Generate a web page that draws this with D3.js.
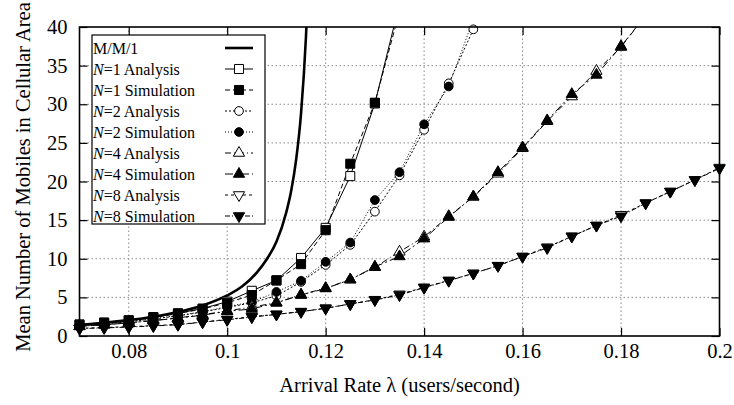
<!DOCTYPE html>
<html lang="en">
<head>
<meta charset="utf-8">
<title>Mean Number of Mobiles vs Arrival Rate</title>
<script src="https://d3js.org/d3.v7.min.js"></script>
<style>
  body { margin: 0; background: #fff; }
  svg text { font-family: "Liberation Serif", "DejaVu Serif", serif; fill: #000; }
</style>
</head>
<body>
<svg id="chart"></svg>
<script>
const width = 734;
const height = 405;

// arrival rates (users/second) for the N-series
const lambdas = [0.07, 0.075, 0.08, 0.085, 0.09, 0.095, 0.1, 0.105, 0.11, 0.115, 0.12, 0.125, 0.13, 0.135,
                 0.14, 0.145, 0.15, 0.155, 0.16, 0.165, 0.17, 0.175, 0.18, 0.185, 0.19, 0.195, 0.2];

// M/M/1 curve
const mm1Lambdas = [0.07, 0.075, 0.08, 0.085, 0.09, 0.095, 0.1, 0.103, 0.106, 0.108, 0.11, 0.112, 0.113, 0.114, 0.115, 0.116, 0.1165];
const mm1Values = [1.43, 1.7, 2.05, 2.5, 3.1, 3.95, 5.25, 6.4, 8.2, 9.9, 12.2, 16.0, 18.8, 22.8, 28.8, 38.7, 46];

const n1Analysis = [1.5, 1.75, 2.05, 2.45, 2.95, 3.55, 4.45, 5.85, 7.2, 10.1, 14.0, 20.7, 30.1, 43];
const n1Simulation = [1.45, 1.7, 2.0, 2.4, 2.9, 3.5, 4.3, 5.3, 7.2, 9.3, 13.7, 22.3, 30.2, 42];
const n2Analysis = [1.35, 1.6, 1.85, 2.2, 2.6, 3.1, 3.7, 4.3, 5.2, 7.0, 9.2, 11.8, 16.1, 20.8, 26.7, 32.7, 39.7];
const n2Simulation = [1.35, 1.6, 1.85, 2.25, 2.65, 3.15, 3.8, 4.4, 5.7, 7.15, 9.6, 12.1, 17.6, 21.2, 27.4, 32.3, 41];
const n4Analysis = [1.25, 1.45, 1.7, 2.0, 2.35, 2.75, 3.25, 3.75, 4.3, 5.35, 6.2, 7.3, 8.9, 10.9, 12.85, 15.5,
                    18.0, 21.0, 24.3, 27.8, 31.0, 34.3, 37.4, 41.5];
const n4Simulation = [1.25, 1.45, 1.7, 2.0, 2.3, 2.7, 3.2, 3.5, 4.3, 5.3, 6.15, 7.3, 8.95, 10.3, 12.6, 15.4,
                      18.05, 21.2, 24.4, 27.9, 31.3, 33.8, 37.5, 41.5];
const n8Analysis = [1.0, 1.1, 1.2, 1.35, 1.5, 1.8, 2.15, 2.5, 2.8, 3.15, 3.6, 4.15, 4.7, 5.4, 6.3, 7.2, 8.1,
                    9.1, 10.3, 11.5, 12.9, 14.3, 15.7, 17.2, 18.7, 20.2, 21.8];
const n8Simulation = [0.95, 1.05, 1.15, 1.3, 1.45, 1.8, 2.1, 2.45, 2.8, 3.15, 3.58, 4.14, 4.66, 5.3, 6.26, 7.16, 8.1,
                      9.1, 10.27, 11.4, 12.9, 14.3, 15.5, 17.2, 18.7, 20.2, 21.7];

const xTicks = [0.08, 0.1, 0.12, 0.14, 0.16, 0.18, 0.2];
const yTicks = [0, 5, 10, 15, 20, 25, 30, 35, 40];

const series = [
    {label: "=1 Analysis", n: "N", values: n1Analysis, dash: null, symbol: d3.symbolSquare, size: 82, open: true},
    {label: "=1 Simulation", n: "N", values: n1Simulation, dash: "5,3", symbol: d3.symbolSquare, size: 82, open: false},
    {label: "=2 Analysis", n: "N", values: n2Analysis, dash: "2,2", symbol: d3.symbolCircle, size: 60, open: true},
    {label: "=2 Simulation", n: "N", values: n2Simulation, dash: "1,2", symbol: d3.symbolCircle, size: 60, open: false},
    {label: "=4 Analysis", n: "N", values: n4Analysis, dash: "6,3,1,3", symbol: d3.symbolTriangle, size: 55, open: true},
    {label: "=4 Simulation", n: "N", values: n4Simulation, dash: "8,3,2,3", symbol: d3.symbolTriangle, size: 55, open: false},
    {label: "=8 Analysis", n: "N", values: n8Analysis, dash: "3,3", symbol: d3.symbolTriangle, size: 55, open: true, flip: true},
    {label: "=8 Simulation", n: "N", values: n8Simulation, dash: "5,2,1,2", symbol: d3.symbolTriangle, size: 55, open: false, flip: true}
];

const margin = {top: 27, right: 14.5, bottom: 69, left: 79.5};
const x = d3.scaleLinear().domain([0.07, 0.2]).range([margin.left, width - margin.right]);
const y = d3.scaleLinear().domain([0, 40]).range([height - margin.bottom, margin.top]);

const svg = d3.select("#chart").attr("width", width).attr("height", height);

svg.append("clipPath").attr("id", "plot-clip")
    .append("rect")
    .attr("x", x(0.07)).attr("y", y(40))
    .attr("width", x(0.2) - x(0.07)).attr("height", y(0) - y(40));

// grid
const grid = svg.append("g").attr("stroke", "#8a8a8a").attr("stroke-width", 1).attr("stroke-dasharray", "1.5,2.5");
grid.selectAll("line.gx")
    .data(xTicks.filter(d => d < 0.2))
    .enter().append("line")
    .attr("x1", d => x(d)).attr("x2", d => x(d))
    .attr("y1", y(0)).attr("y2", y(40));
grid.selectAll("line.gy")
    .data(yTicks.filter(d => d > 0 && d < 40))
    .enter().append("line")
    .attr("x1", x(0.07)).attr("x2", x(0.2))
    .attr("y1", d => y(d)).attr("y2", d => y(d));

// axes, ticks pointing inward on all sides
function styleAxis(g) {
    g.select(".domain").remove();
    g.selectAll(".tick line").attr("stroke", "#000").attr("stroke-width", 1.2);
    g.selectAll("text").attr("font-family", "Liberation Serif").attr("font-size", 20.5).attr("fill", "#000");
}
svg.append("g").attr("transform", `translate(0,${y(0)})`)
    .call(d3.axisBottom(x).tickValues(xTicks).tickSizeInner(-8).tickSizeOuter(0).tickPadding(7).tickFormat(d3.format("")))
    .call(styleAxis);
svg.append("g").attr("transform", `translate(0,${y(40)})`)
    .call(d3.axisTop(x).tickValues(xTicks).tickSizeInner(-8).tickSizeOuter(0).tickFormat(""))
    .call(styleAxis);
svg.append("g").attr("transform", `translate(${x(0.07)},0)`)
    .call(d3.axisLeft(y).tickValues(yTicks).tickSizeInner(-8).tickSizeOuter(0).tickPadding(12))
    .call(styleAxis);
svg.append("g").attr("transform", `translate(${x(0.2)},0)`)
    .call(d3.axisRight(y).tickValues(yTicks).tickSizeInner(-8).tickSizeOuter(0).tickFormat(""))
    .call(styleAxis);

// data
const plot = svg.append("g").attr("clip-path", "url(#plot-clip)");

const mm1Line = d3.line().x((d, i) => x(mm1Lambdas[i])).y(d => y(d)).curve(d3.curveMonotoneX);
plot.append("path")
    .attr("d", mm1Line(mm1Values))
    .attr("fill", "none").attr("stroke", "#000").attr("stroke-width", 2.6);

const line = d3.line().x((d, i) => x(lambdas[i])).y(d => y(d));

series.forEach(s => {
    plot.append("path")
        .attr("d", line(s.values))
        .attr("fill", "none").attr("stroke", "#000").attr("stroke-width", 1)
        .attr("stroke-dasharray", s.dash);
    const pts = s.values.map((v, i) => [lambdas[i], v]).filter(p => p[1] <= 40);
    svg.append("g").selectAll("path")
        .data(pts)
        .enter().append("path")
        .attr("d", d3.symbol().type(s.symbol).size(s.size))
        .attr("transform", d => `translate(${x(d[0])},${y(d[1])})` + (s.flip ? " rotate(180)" : ""))
        .attr("fill", s.open ? "#fff" : "#000")
        .attr("stroke", "#000").attr("stroke-width", 1);
});

// frame
svg.append("rect")
    .attr("x", x(0.07)).attr("y", y(40))
    .attr("width", x(0.2) - x(0.07)).attr("height", y(0) - y(40))
    .attr("fill", "none").attr("stroke", "#000").attr("stroke-width", 1.6);

// legend
const legend = svg.append("g");
legend.append("rect")
    .attr("x", 92).attr("y", 35).attr("width", 173).attr("height", 189)
    .attr("fill", "#fff").attr("stroke", "#000").attr("stroke-width", 1.2);

const rowY = i => 48 + i * 21;
legend.append("text").attr("x", 93).attr("y", rowY(0) + 5.5).attr("font-size", 16).text("M/M/1");
legend.append("line")
    .attr("x1", 225).attr("x2", 253).attr("y1", rowY(0)).attr("y2", rowY(0))
    .attr("stroke", "#000").attr("stroke-width", 2.6);

series.forEach((s, i) => {
    const yy = rowY(i + 1);
    const t = legend.append("text").attr("x", 93).attr("y", yy + 5.5).attr("font-size", 16);
    t.append("tspan").attr("font-style", "italic").text(s.n);
    t.append("tspan").text(s.label);
    legend.append("line")
        .attr("x1", 225).attr("x2", 253).attr("y1", yy).attr("y2", yy)
        .attr("stroke", "#000").attr("stroke-width", 1).attr("stroke-dasharray", s.dash);
    legend.append("path")
        .attr("d", d3.symbol().type(s.symbol).size(s.size))
        .attr("transform", `translate(239,${yy})` + (s.flip ? " rotate(180)" : ""))
        .attr("fill", s.open ? "#fff" : "#000")
        .attr("stroke", "#000").attr("stroke-width", 1);
});

// axis titles
svg.append("text")
    .attr("x", (x(0.07) + x(0.2)) / 2).attr("y", 392)
    .attr("text-anchor", "middle").attr("font-size", 20.5)
    .text("Arrival Rate λ (users/second)");
svg.append("text")
    .attr("transform", "translate(30,177) rotate(-90)")
    .attr("text-anchor", "middle").attr("font-size", 20.5)
    .text("Mean Number of Mobiles in Cellular Area");
</script>
</body>
</html>
